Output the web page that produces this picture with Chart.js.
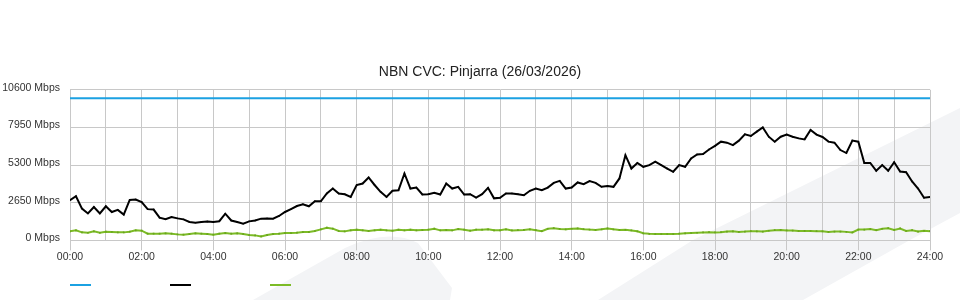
<!DOCTYPE html>
<html>
<head>
<meta charset="utf-8">
<title>NBN CVC: Pinjarra</title>
<script src="https://cdn.jsdelivr.net/npm/chart.js@4.4.1/dist/chart.umd.min.js"></script>
<style>
    html, body { margin: 0; padding: 0; background: #ffffff; }
    #contenedor { width: 960px; height: 300px; position: relative; }
</style>
</head>
<body>
<div id="contenedor"><canvas id="grafico_cvc"></canvas></div>
<script>
let titulo = 'NBN CVC: Pinjarra (26/03/2026)'

// una muestra cada 10 minutos, de 00:00 a 24:00
let paso_minutos = 10

let etiquetas_x = [
    '00:00', '02:00', '04:00', '06:00', '08:00', '10:00', '12:00',
    '14:00', '16:00', '18:00', '20:00', '22:00', '24:00'
]

let eje_y_max = 10600
let eje_y_paso = 2650

// capacidad contratada (linea azul)
let capacidad = 10000

// trafico pico (linea negra), Mbps
let trafico_pico = [
    2830, 3110, 2240, 1900, 2350, 1900, 2400, 2000, 2150, 1820,
    2850, 2880, 2700, 2200, 2170, 1600, 1490, 1650, 1550, 1480,
    1300, 1250, 1300, 1330, 1300, 1350, 1880, 1400, 1300, 1180,
    1340, 1400, 1530, 1550, 1530, 1720, 2000, 2200, 2420, 2540,
    2400, 2750, 2750, 3300, 3650, 3300, 3250, 3060, 3890, 4000,
    4430, 3900, 3420, 3060, 3490, 3530, 4710, 3650, 3720, 3230,
    3250, 3350, 3230, 4000, 3650, 3770, 3230, 3250, 3010, 3250,
    3700, 2960, 3000, 3300, 3300, 3250, 3180, 3490, 3650, 3530,
    3720, 4050, 4190, 3650, 3720, 4080, 3960, 4170, 4050, 3770,
    3820, 3770, 4360, 6000, 5060, 5450, 5180, 5300, 5540, 5300,
    5060, 4830, 5300, 5180, 5770, 6050, 6080, 6400, 6650, 6950,
    6880, 6710, 7020, 7470, 7350, 7660, 7950, 7300, 6950, 7300,
    7450, 7300, 7180, 7110, 7770, 7450, 7280, 6950, 6880, 6360,
    6150, 7030, 6950, 5450, 5450, 4900, 5300, 4900, 5500, 4850,
    4800, 4150, 3650, 3000, 3050
]

// trafico medio (linea verde), Mbps
let trafico_medio = [
    636, 707, 565, 540, 636, 540, 612, 590, 565, 565,
    612, 707, 683, 471, 471, 471, 495, 471, 424, 400,
    447, 495, 471, 447, 400, 471, 518, 471, 495, 447,
    377, 353, 283, 377, 447, 471, 518, 518, 541, 589,
    589, 660, 777, 895, 824, 660, 636, 707, 754, 707,
    660, 707, 754, 707, 683, 754, 707, 754, 707, 730,
    754, 824, 707, 730, 707, 800, 754, 683, 754, 754,
    777, 707, 707, 780, 700, 720, 740, 780, 720, 650,
    820, 860, 810, 780, 820, 840, 790, 760, 740, 780,
    840, 780, 740, 750, 700, 640, 500, 460, 450, 450,
    450, 450, 470, 500, 520, 540, 560, 580, 560, 580,
    620, 640, 600, 620, 650, 640, 620, 680, 720, 740,
    700, 690, 660, 670, 660, 650, 640, 600, 620, 620,
    600, 560, 760, 760, 800, 720, 820, 860, 740, 840,
    660, 720, 620, 680, 650
]

let color_azul = '#1ba1e2'
let color_negro = '#000000'
let color_verde = '#7cbb26'
let color_rejilla = '#c8c8c8'


function a_puntos(valores){
    // posicion en horas segun el indice de la muestra
    return valores.map((v, i) => ({ x: i * paso_minutos / 60, y: v }))
}


/*
    ||=====================================================
    || PLUGINS
    ||=====================================================
*/

// marca de agua gris del fondo
const fondo_logo = {
    id: 'fondo_logo',
    beforeDraw(chart){
        const ctx = chart.ctx
        ctx.save()
        ctx.fillStyle = '#f3f4f6'
        ctx.beginPath()
        ctx.moveTo(253, 300)
        ctx.lineTo(345, 248)
        ctx.quadraticCurveTo(388, 228, 418, 243)
        ctx.lineTo(452, 288)
        ctx.lineTo(450, 300)
        ctx.closePath()
        ctx.fill()
        ctx.beginPath()
        ctx.moveTo(598, 300)
        ctx.lineTo(693, 240)
        ctx.lineTo(960, 108)
        ctx.lineTo(960, 213)
        ctx.lineTo(910, 240)
        ctx.lineTo(803, 300)
        ctx.closePath()
        ctx.fill()
        ctx.restore()
    }
}

// leyenda: solo las lineas de color, sin texto
const leyenda_lineas = {
    id: 'leyenda_lineas',
    afterDraw(chart){
        const ctx = chart.ctx
        const izquierda = chart.chartArea.left
        ctx.save()
        chart.data.datasets.forEach((ds, i) => {
            let x = izquierda + i * 100
            ctx.strokeStyle = ds.borderColor
            ctx.lineWidth = 2
            ctx.beginPath()
            ctx.moveTo(x, 285)
            ctx.lineTo(x + 21, 285)
            ctx.stroke()
        })
        ctx.restore()
    }
}


/*
    ||=====================================================
    || CHART
    ||=====================================================
*/

Chart.defaults.font.family = '"Liberation Sans", Arial, sans-serif'
Chart.defaults.color = '#333333'

var configuracion = {
    type: 'line',
    data: {
        datasets: [
            {
                label: '',
                data: [{ x: 0, y: capacidad }, { x: 24, y: capacidad }],
                borderColor: color_azul,
                borderWidth: 2,
                pointRadius: 0
            },
            {
                label: '',
                data: a_puntos(trafico_pico),
                borderColor: color_negro,
                borderWidth: 2,
                pointRadius: 1,
                pointStyle: 'rect',
                pointBackgroundColor: color_negro,
                pointBorderWidth: 0
            },
            {
                label: '',
                data: a_puntos(trafico_medio),
                borderColor: color_verde,
                borderWidth: 2,
                pointRadius: 1.2,
                pointStyle: 'rect',
                pointBackgroundColor: '#69a51c',
                pointBorderWidth: 0
            }
        ]
    },
    options: {
        responsive: true,
        maintainAspectRatio: false,
        animation: false,
        layout: {
            padding: { top: 0, left: 0, right: 0, bottom: 37 }
        },
        elements: { line: { tension: 0 } },
        plugins: {
            legend: { display: false },
            tooltip: { enabled: false },
            title: {
                display: true,
                text: titulo,
                color: '#222222',
                font: { size: 14, weight: 'normal' },
                padding: { top: 64, bottom: 9 }
            }
        },
        scales: {
            x: {
                type: 'linear',
                min: 0,
                max: 24,
                grid: {
                    color: color_rejilla,
                    tickLength: 10,
                    tickColor: (c) => (c.tick && c.tick.value % 2 === 0) ? color_rejilla : 'rgba(0,0,0,0)'
                },
                border: { color: color_rejilla },
                ticks: {
                    stepSize: 1,
                    autoSkip: false,
                    maxRotation: 0,
                    padding: 0,
                    font: { size: 10.5 },
                    callback: (v) => v % 2 === 0 ? etiquetas_x[v / 2] : ''
                }
            },
            y: {
                min: 0,
                max: eje_y_max,
                grid: { color: color_rejilla, drawTicks: false },
                border: { color: color_rejilla },
                afterFit: (escala) => { escala.width = 70 },
                ticks: {
                    stepSize: eje_y_paso,
                    padding: 10,
                    labelOffset: -2,
                    font: { size: 10.5 },
                    callback: (v) => v + ' Mbps'
                }
            },
            // eje vacio a la derecha, solo reserva el margen
            margen_derecho: {
                position: 'right',
                grid: { display: false },
                border: { display: false },
                ticks: { display: false },
                afterFit: (escala) => { escala.width = 30 }
            }
        }
    },
    plugins: [fondo_logo, leyenda_lineas]
}

var ctx = document.getElementById('grafico_cvc').getContext('2d')
var grafico_cvc = new Chart(ctx, configuracion)
</script>
</body>
</html>
